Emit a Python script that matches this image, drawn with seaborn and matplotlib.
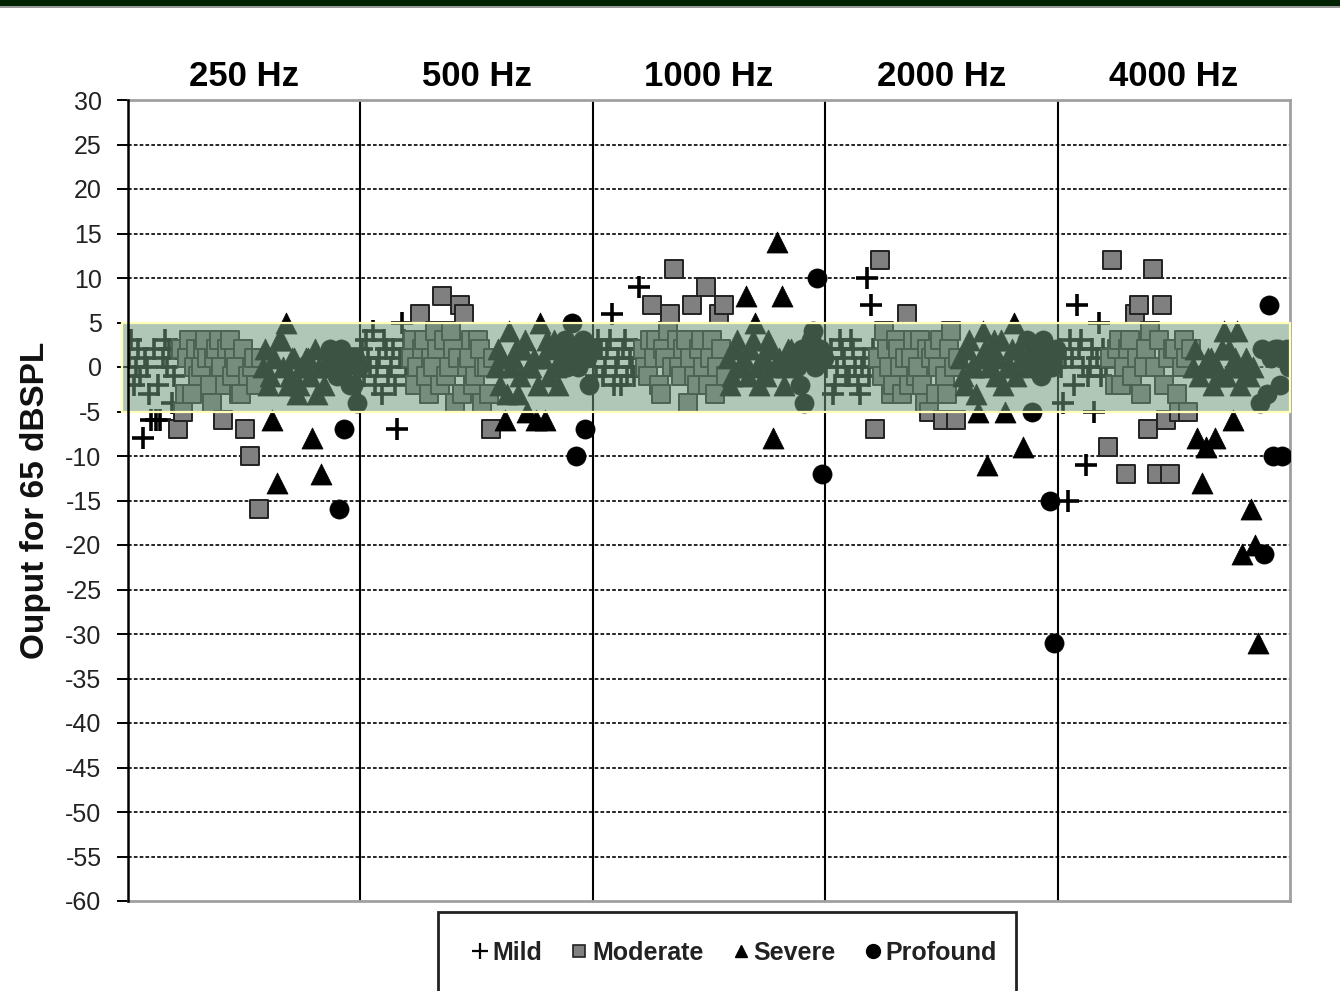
import numpy as np
import pandas as pd
import matplotlib
matplotlib.use("Agg")
import matplotlib.pyplot as plt
import seaborn as sns
from matplotlib.patches import Rectangle
from matplotlib.lines import Line2D
import matplotlib.transforms as mtransforms

sns.set_theme(style="white")
plt.rcParams['font.family'] = ['Liberation Sans', 'DejaVu Sans']

# ---------------- data ----------------
freqs = ["250 Hz", "500 Hz", "1000 Hz", "2000 Hz", "4000 Hz"]
categories = ["Mild", "Moderate", "Severe", "Profound"]
subjects_per_freq = 104

mild = {
    "250 Hz":  [1, 3, -2, 0, 2, -1, -8, 1, 0, -3, -6, 2, -6, -2, -6, 1, 3, 0, 2, -4, -1, 2],
    "500 Hz":  [2, -1, 3, 1, 0, 4, -2, 0, 1, -3, 3, 2, -1, 0, 2, -2, -7, 1, 5, 3, 0, -1],
    "1000 Hz": [1, -1, 3, 2, -1, 0, 2, 3, 6, -2, 0, 1, -2, 2, 3, -1, 1, 0, -1, 2, 9, 1],
    "2000 Hz": [0, 1, 2, -3, -2, 0, 3, 2, 1, -1, -1, 3, 2, 0, -2, -3, 0, 1, 10, -1, 7, 2],
    "4000 Hz": [2, 0, -4, 1, -15, 3, 1, -2, 7, 2, 3, 0, -11, -1, 0, 2, -5, 1, 5, -1, 2, 0],
}
moderate = {
    "250 Hz":  [-7, 2, -5, -3, 1, 3, -3, 0, 2, -1, 0, 2, 3, 1, -2, -4, 1, 2, 3, 0,
                -6, -2, 2, 3, -1, 1, 0, -3, -3, 2, -7, -1, -10, 0, 1, -2, -16, 1],
    "500 Hz":  [1, 3, -2, 0, 6, 2, 3, -1, -3, 1, 0, 4, 2, -2, 8, 3, -1, 0, 4, 2,
                -4, 1, 7, -3, 6, 0, 1, 3, -2, -1, 3, 2, -4, 0, 0, -3, -7, 1],
    "1000 Hz": [2, 0, -1, 3, 7, 1, 3, -2, -3, 2, 1, 4, 6, 0, 11, 3, 0, -1, 2, 3,
                -4, 1, 7, -1, -2, 2, 3, 0, 9, -2, 1, 3, -3, 0, 6, 2, 7, -1],
    "2000 Hz": [-7, 1, 12, -1, 4, 2, 0, -3, -2, 3, 2, 0, -3, 1, 6, -2, 1, 3, -1, 0,
                3, -2, -4, 2, -5, 1, 2, -3, 0, 3, -6, -1, -3, 2, 4, 0, -6, 1],
    "4000 Hz": [-9, 1, 12, -2, 2, 3, -2, 0, -12, 2, 3, -1, 6, 1, 7, -3, 0, 2, -7, 4,
                11, 0, -12, 3, 7, -2, -6, 1, -12, 2, 2, -3, -5, 0, 3, 1, -5, 2],
}
severe = {
    "250 Hz":  [0, 2, -2, -1, -6, 1, -13, 3, 3, 0, 5, -2, -1, 1, 1, -3, -2, 0, 0, 1,
                1, -1, -8, 2, -3, 0, -12, -2, 0, 1],
    "500 Hz":  [0, 2, -2, 1, -6, -3, 4, 0, 1, 2, -3, -1, 2, 3, -5, 0, 0, 1, -6, -2,
                5, 1, -6, 3, -1, 2, 3, 0, -2, 1],
    "1000 Hz": [1, -2, -1, 2, 3, 0, 0, 1, 8, -1, 2, 3, 5, 0, -2, 1, 1, -1, 3, 2,
                -8, 0, 14, 1, 8, -2, 0, 2, 2, 1],
    "2000 Hz": [1, -1, -2, 2, 3, 0, 0, -3, -5, 1, 4, 2, -11, 0, 2, 3, -1, 1, 3, -2,
                -5, 0, 0, 2, 5, -1, 2, 1, -9, 0],
    "4000 Hz": [0, 2, -8, -1, -13, 0, -9, 1, 1, -2, -8, 0, -1, 2, 4, -1, 2, 0, -6, 1,
                4, -2, -21, 0, 1, -1, -16, 0, -20, -31],
}
profound = {
    "250 Hz":  [2, 1, 0, -1, -16, 2, -7, 0, 1, -2, -2, 1, -4, 0],
    "500 Hz":  [2, 3, 0, 1, 5, 2, -10, 0, 1, 3, -7, 1, -2, 2],
    "1000 Hz": [1, 0, -2, 2, -4, 1, 2, 3, 4, 0, 10, 2, -12, 1],
    "2000 Hz": [3, 1, -5, 2, 1, 0, -1, 3, 2, 1, -15, 0, -31, 2],
    "4000 Hz": [-4, 2, -21, -3, 7, 1, -10, 2, 2, -2, -10, 1, 2, 0],
}
yticks = list(range(-60, 31, 5))

# ---------------- build long table ----------------
series = {"Mild": mild, "Moderate": moderate, "Severe": severe, "Profound": profound}
rows = []
for fi, f in enumerate(freqs):
    idx = 0
    for cat in categories:
        for v in series[cat][f]:
            rows.append({"freq": f, "group": cat, "x": fi * subjects_per_freq + idx, "value": v})
            idx += 1
df = pd.DataFrame(rows)

# ---------------- figure ----------------
fig = plt.figure(figsize=(13.4, 9.91), dpi=100)
ax = fig.add_axes([128 / 1340, 1 - 901 / 991, (1290 - 128) / 1340, (901 - 100) / 991])

# top dark band
fig.patches.append(Rectangle((0, 1 - 6 / 991), 1, 6 / 991, transform=fig.transFigure,
                             facecolor="#012301", edgecolor="none", zorder=0))
fig.patches.append(Rectangle((0, 1 - 8 / 991), 1, 2 / 991, transform=fig.transFigure,
                             facecolor="#9a9a9a", edgecolor="none", zorder=0))

styles = {
    "Mild": dict(marker="+", s=230, color="black", linewidth=2.6),
    "Moderate": dict(marker="s", s=165, color="#808080", edgecolor="#222222", linewidth=1.4),
    "Severe": dict(marker="^", s=230, color="black", edgecolor="black", linewidth=0.5),
    "Profound": dict(marker="o", s=190, color="black", edgecolor="black", linewidth=0.5),
}
for cat in categories:
    sub = df[df["group"] == cat]
    sns.scatterplot(data=sub, x="x", y="value", ax=ax, legend=False, zorder=3, **styles[cat])

ax.set_xlim(-0.5, len(freqs) * subjects_per_freq - 0.5)
ax.set_ylim(-60, 30)

# gridlines
for y in yticks:
    if -60 < y < 30:
        ax.axhline(y, color="black", lw=1.2, ls=(0, (2.2, 1.3)), zorder=1)

# section separators
for k in range(1, len(freqs)):
    ax.axvline(k * subjects_per_freq - 0.5, color="black", lw=1.5, zorder=2)

# shaded band -5..5 drawn over points
trans = mtransforms.blended_transform_factory(ax.transAxes, ax.transData)
ax.add_patch(Rectangle((-0.005, -5), 1.005, 10, transform=trans, facecolor="#6F997D",
                       alpha=0.55, edgecolor="none", zorder=5, clip_on=False))
ax.add_patch(Rectangle((-0.005, -5), 1.005, 10, transform=trans, facecolor="none",
                       edgecolor="#FFFFB8", lw=1.6, zorder=6, clip_on=False))

# spines
for side in ["top", "right", "bottom"]:
    ax.spines[side].set_color("#a0a0a0")
    ax.spines[side].set_linewidth(2)
ax.spines["left"].set_color("black")
ax.spines["left"].set_linewidth(1.8)
ax.spines["left"].set_zorder(7)

ax.set_yticks(yticks)
ax.set_yticklabels([str(t) for t in yticks], fontsize=18, color="#222222")
ax.set_xticks([])
ax.tick_params(axis="y", direction="out", length=8, width=1.4, color="black", left=True, pad=11)
ax.set_xlabel("")
ax.set_ylabel("Ouput for 65 dBSPL", fontsize=24, fontweight="bold", color="#111111", labelpad=10)

# frequency headers
hdr_trans = mtransforms.blended_transform_factory(ax.transData, ax.transAxes)
for k, f in enumerate(freqs):
    cx = k * subjects_per_freq + (subjects_per_freq - 1) / 2
    ax.text(cx, 1.029, f, transform=hdr_trans,
            ha="center", va="center", fontsize=25, fontweight="bold", color="black")

# legend box
fig.patches.append(Rectangle((438 / 1340, -0.05), (1016 - 438) / 1340, (1 - 912 / 991) + 0.05,
                             transform=fig.transFigure, facecolor="white",
                             edgecolor="#222222", lw=2, zorder=1))
handles = [
    Line2D([], [], marker="+", ls="", color="black", markersize=11, markeredgewidth=1.6),
    Line2D([], [], marker="s", ls="", markerfacecolor="#808080", markeredgecolor="#222222", markersize=9, markeredgewidth=1.2),
    Line2D([], [], marker="^", ls="", color="black", markersize=9),
    Line2D([], [], marker="o", ls="", color="black", markersize=10),
]
leg = fig.legend(handles, categories, loc="center", bbox_to_anchor=(732 / 1340, 1 - 953 / 991),
                 ncol=4, frameon=False, handletextpad=0.0, columnspacing=1.0,
                 handlelength=1.0, prop={"size": 18, "weight": "bold"})
for t in leg.get_texts():
    t.set_color("#222222")

fig.savefig("out.png", dpi=100)
